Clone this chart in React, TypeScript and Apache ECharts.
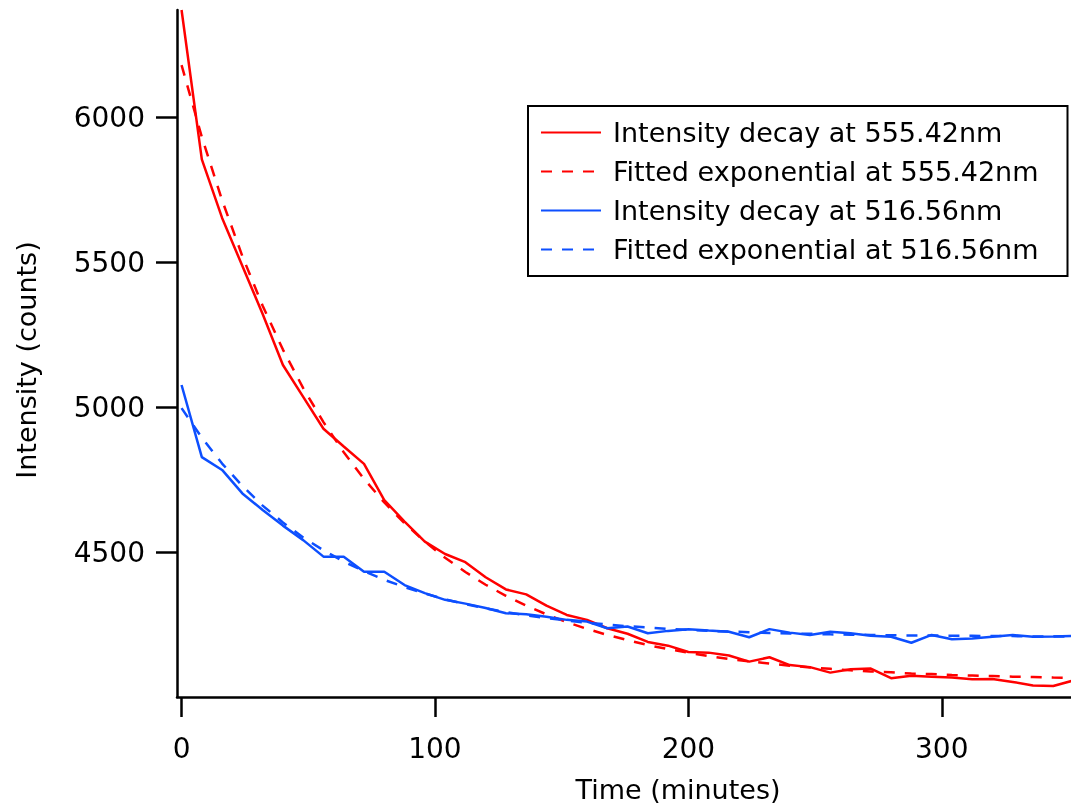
import React, { useEffect, useRef } from "react";
import * as echarts from "echarts";

// Sample times (minutes)
const times = [
  0, 8, 16, 24, 32, 40, 48, 56, 64, 72, 80, 88, 96, 104, 112, 120, 128, 136,
  144, 152, 160, 168, 176, 184, 192, 200, 208, 216, 224, 232, 240, 248, 256,
  264, 272, 280, 288, 296, 304, 312, 320, 328, 336, 344, 352,
];

const red555 = [
  6370, 5855, 5653, 5487, 5322, 5146, 5036, 4926, 4865, 4805, 4680, 4606,
  4537, 4494, 4466, 4414, 4372, 4355, 4316, 4284, 4267, 4238, 4219, 4191,
  4178, 4156, 4154, 4144, 4123, 4138, 4111, 4104, 4085, 4097, 4099, 4066,
  4074, 4071, 4068, 4062, 4063, 4053, 4041, 4039, 4058,
];

const redFit555 = [
  6180, 5932, 5714, 5521, 5350, 5199, 5066, 4949, 4845, 4753, 4672, 4600,
  4537, 4481, 4432, 4388, 4350, 4316, 4286, 4259, 4236, 4215, 4197, 4180,
  4166, 4154, 4142, 4132, 4124, 4116, 4109, 4103, 4098, 4093, 4089, 4086,
  4082, 4080, 4077, 4075, 4073, 4071, 4070, 4068, 4067,
];

const blue516 = [
  5077, 4828, 4784, 4703, 4646, 4592, 4542, 4485, 4485, 4433, 4433, 4387,
  4359, 4336, 4323, 4308, 4290, 4286, 4278, 4267, 4261, 4238, 4244, 4221,
  4229, 4235, 4230, 4226, 4207, 4235, 4223, 4215, 4226, 4221, 4212, 4209,
  4188, 4215, 4200, 4203, 4209, 4215, 4209, 4210, 4212,
];

const blueFit516 = [
  4997, 4895, 4806, 4729, 4661, 4603, 4551, 4507, 4468, 4435, 4405, 4380,
  4358, 4338, 4321, 4307, 4294, 4283, 4273, 4265, 4257, 4251, 4245, 4241,
  4236, 4233, 4229, 4227, 4224, 4222, 4220, 4219, 4217, 4216, 4215, 4214,
  4213, 4213, 4212, 4212, 4211, 4211, 4210, 4210, 4210,
];

const seriesNames = [
  "Intensity decay at 555.42nm",
  "Fitted exponential at 555.42nm",
  "Intensity decay at 516.56nm",
  "Fitted exponential at 516.56nm",
];

const xTicks = [0, 100, 200, 300];
const yTicks = [4500, 5000, 5500, 6000];

const RED = "#ff0000";
const BLUE = "#0d4fff";
const FONT = "DejaVu Sans";

export default function App() {
  const ref = useRef<HTMLDivElement>(null);

  useEffect(() => {
    const chart = echarts.init(ref.current!, null, { renderer: "svg" });
    const pair = (vals: number[]) => times.map((t, i) => [t, vals[i]]);
    const mk = (name: string, vals: number[], color: string, dashed: boolean) => ({
      name,
      type: "line",
      data: pair(vals),
      symbol: "none",
      showSymbol: false,
      clip: true,
      lineStyle: { color, width: 2.5, type: dashed ? [11, 10] : "solid" },
      itemStyle: { color },
      emphasis: { disabled: true },
    });

    chart.setOption({
      animation: false,
      textStyle: { fontFamily: FONT },
      grid: { left: 177, top: 10, right: 0, bottom: 106, containLabel: false },
      xAxis: {
        type: "value",
        min: -1.8,
        max: 351,
        axisLine: { show: true, onZero: false, lineStyle: { color: "#000", width: 2.5 } },
        axisTick: {
          show: true,
          length: 20,
          customValues: xTicks,
          lineStyle: { color: "#000", width: 2.5 },
        },
        axisLabel: {
          customValues: xTicks,
          formatter: (v: number) => String(v),
          margin: 37,
          fontSize: 28,
          fontFamily: FONT,
          color: "#000",
        },
        splitLine: { show: false },
      },
      yAxis: {
        type: "value",
        min: 4001,
        max: 6370,
        axisLine: { show: true, onZero: false, lineStyle: { color: "#000", width: 2.5 } },
        axisTick: {
          show: true,
          length: 21,
          customValues: yTicks,
          lineStyle: { color: "#000", width: 2.5 },
        },
        axisLabel: {
          customValues: yTicks,
          formatter: (v: number) => String(v),
          margin: 32,
          fontSize: 28,
          fontFamily: FONT,
          color: "#000",
        },
        splitLine: { show: false },
      },
      legend: {
        orient: "vertical",
        left: 528,
        top: 106,
        padding: [13, 29, 13, 12],
        borderColor: "#000",
        borderWidth: 2,
        backgroundColor: "#fff",
        itemWidth: 60,
        itemHeight: 2,
        itemGap: 12,
        selectedMode: false,
        itemStyle: { color: "rgba(0,0,0,0)", borderWidth: 0, opacity: 0 },
        textStyle: {
          fontFamily: FONT,
          fontSize: 27,
          lineHeight: 27,
          color: "#000",
          padding: [0, 0, 0, 7],
        },
        data: seriesNames,
      },
      graphic: [
        {
          type: "text",
          x: 678,
          y: 789,
          style: {
            text: "Time (minutes)",
            fontSize: 27,
            fontFamily: FONT,
            fill: "#000",
            align: "center",
            verticalAlign: "middle",
          },
        },
        {
          type: "text",
          x: 26,
          y: 360,
          rotation: Math.PI / 2,
          style: {
            text: "Intensity (counts)",
            fontSize: 27,
            fontFamily: FONT,
            fill: "#000",
            align: "center",
            verticalAlign: "middle",
          },
        },
      ],
      series: [
        mk(seriesNames[0], red555, RED, false),
        mk(seriesNames[1], redFit555, RED, true),
        mk(seriesNames[2], blue516, BLUE, false),
        mk(seriesNames[3], blueFit516, BLUE, true),
      ],
    });

    return () => chart.dispose();
  }, []);

  return (
    <div
      ref={ref}
      style={{ position: "fixed", left: 0, top: 0, width: 1071, height: 803 }}
    />
  );
}
